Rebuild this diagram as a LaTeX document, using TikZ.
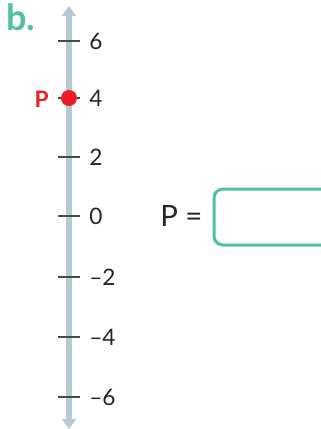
\documentclass[tikz,border=0pt]{standalone}
\usepackage{fontspec}
\setmainfont{Lato}
\usetikzlibrary{arrows.meta}
\definecolor{axisblue}{HTML}{B7C9D3}
\definecolor{tickgray}{HTML}{4A4A4A}
\definecolor{teal}{HTML}{4FC0A6}
\definecolor{pred}{HTML}{EE1C25}
\begin{document}
\begin{tikzpicture}[x=0.75pt,y=-0.75pt,
  axis/.style={line width=6pt*0.75, draw=axisblue, -{Triangle[width=14pt*0.75,length=10pt*0.75]}},
  tick/.style={line width=2.4pt*0.75, draw=tickgray},
  ticklabel/.style={anchor=west, font=\fontsize{17}{17}\selectfont, text=black!85, inner sep=0pt},
  answerbox/.style={draw=teal, line width=3pt*0.75, rounded corners=9pt*0.75}]
  \clip (0,0) rectangle (321,429);
  \fill[white] (0,0) rectangle (321,429);
  % vertical axis with arrowheads at both ends
  \coordinate (top) at (69,6);
  \coordinate (bot) at (69,429);
  \coordinate (mid) at (69,216);
  \draw[axis] (mid) -- (top);
  \draw[axis] (mid) -- (bot);
  % ticks and labels
  \foreach \v/\y/\lab in {6/41/6, 4/98/4, 2/157/2, 0/216/0, m2/277/{–2}, m4/337/{–4}, m6/397/{–6}} {
    \coordinate (t\v) at (69,\y);
    \draw[tick] ([xshift=-11*0.75pt]t\v) -- ([xshift=11*0.75pt]t\v);
    \node[ticklabel] (l\v) at (89,\y) {\lab};
  }
  % point P
  \node[circle, fill=pred, minimum size=16pt*0.75, inner sep=0pt] (P) at (t4) {};
  \node[anchor=east, text=pred, font=\bfseries\fontsize{17}{17}\selectfont, inner sep=0pt] (Plab) at (49,99) {P};
  % part label
  \node[anchor=north west, text=teal, font=\bfseries\fontsize{27}{27}\selectfont, inner sep=0pt] (part) at (6,3) {b.};
  % answer prompt
  \node[anchor=west, font=\fontsize{22}{22}\selectfont, text=black!85, inner sep=0pt] (eq) at (160,216) {P =};
  \draw[answerbox] (214,189) rectangle (330,245);
\end{tikzpicture}
\end{document}
